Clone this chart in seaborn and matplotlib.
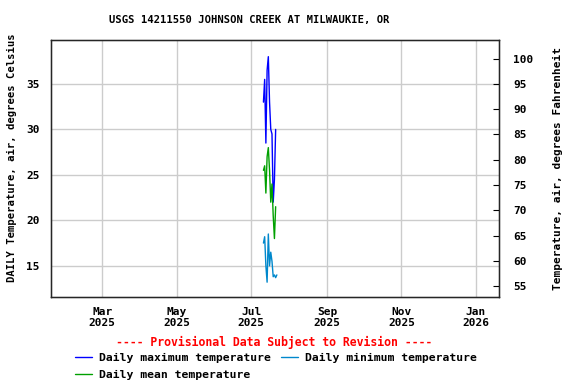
import pandas as pd
import matplotlib.pyplot as plt
import seaborn as sns

sns.set_style("white")
plt.rcParams['font.family'] = ['DejaVu Sans Mono']
plt.rcParams['font.weight'] = 'bold'
plt.rcParams['axes.titleweight'] = 'bold'
plt.rcParams['axes.labelweight'] = 'bold'
plt.rcParams['font.size'] = 8
for k in ['text.color', 'axes.labelcolor', 'xtick.color', 'ytick.color']:
    plt.rcParams[k] = 'black'

# daily values, July 2025
dates = pd.date_range("2025-07-11", periods=12, freq="D")
t_max = [33.0, 35.5, 28.5, 36.5, 38.0, 33.0, 30.0, 29.5, 22.0, 24.5, 30.0, None]
t_mean = [25.5, 26.0, 23.0, 27.0, 28.0, 25.5, 22.0, 24.0, 20.5, 18.0, 21.5, None]
t_min = [17.5, 18.2, 15.0, 13.2, 18.5, 15.0, 16.5, 15.5, 13.8, 14.0, 13.7, 14.0]

df = pd.DataFrame({"date": dates, "max": t_max, "mean": t_mean, "min": t_min})

fig = plt.figure(figsize=(5.76, 3.84), dpi=100)
ax = fig.add_axes([0.0885, 0.227, 0.778, 0.669])

sns.lineplot(data=df, x="date", y="max", ax=ax, color="#0000ff", lw=1, label="Daily maximum temperature")
sns.lineplot(data=df, x="date", y="mean", ax=ax, color="#00a000", lw=1, label="Daily mean temperature")
sns.lineplot(data=df, x="date", y="min", ax=ax, color="#0088cc", lw=1, label="Daily minimum temperature")

ax.set_xlim(pd.Timestamp("2025-01-18"), pd.Timestamp("2026-01-20"))
ax.set_ylim(11.59, 39.84)
ax.set_yticks([15, 20, 25, 30, 35])
ticks = pd.to_datetime(["2025-03-01", "2025-05-01", "2025-07-01", "2025-09-01", "2025-11-01", "2026-01-01"])
ax.set_xticks(ticks)
ax.set_xticklabels([d.strftime("%b\n%Y") for d in ticks], fontweight="bold")
ax.set_yticklabels([str(v) for v in [15, 20, 25, 30, 35]], fontweight="bold")
ax.grid(True, color="#cccccc", lw=1)
ax.tick_params(length=0, pad=7)
ax.tick_params(axis="y", pad=8)
for s in ax.spines.values():
    s.set_color("black")
    s.set_linewidth(1)
ax.set_xlabel("")
ax.set_ylabel("DAILY Temperature, air, degrees Celsius", fontweight="bold", fontsize=7.6)
ax.yaxis.set_label_coords(-0.075, 0.54)
fig.text(0.432, 0.948, "USGS 14211550 JOHNSON CREEK AT MILWAUKIE, OR", ha="center", va="center",
         fontweight="bold", fontsize=7.6)

ax2 = ax.twinx()
lo, hi = ax.get_ylim()
ax2.set_ylim(lo * 9 / 5 + 32, hi * 9 / 5 + 32)
f_ticks = list(range(55, 101, 5))
ax2.set_yticks(f_ticks)
ax2.set_yticklabels([str(v) for v in f_ticks], fontweight="bold")
ax2.tick_params(direction="in", length=4, pad=10)
ax2.set_ylabel("Temperature, air, degrees Fahrenheit", labelpad=14, fontweight="bold")

handles, labels = ax.get_legend_handles_labels()
ax.get_legend().remove()
fig.legend(handles, labels, ncol=2, loc="upper left", bbox_to_anchor=(0.13, 0.080),
           frameon=False, handlelength=1.5, handletextpad=0.6, columnspacing=0.9,
           labelspacing=0.55, borderaxespad=0, borderpad=0,
           prop={"family": "DejaVu Sans Mono", "weight": "bold", "size": 8.2})
fig.text(0.476, 0.107, "---- Provisional Data Subject to Revision ----", color="red",
         ha="center", va="center", fontsize=8.3, fontweight="bold")

fig.savefig("out.png", dpi=100)
